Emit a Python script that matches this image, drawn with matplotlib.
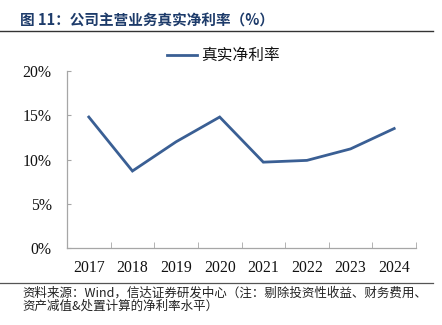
import matplotlib
matplotlib.use("Agg")
import matplotlib.pyplot as plt
import numpy as np
from matplotlib.ticker import FuncFormatter, FixedLocator

plt.rcParams['font.family'] = ['Noto Sans CJK SC', 'DejaVu Sans']

years = ['2017', '2018', '2019', '2020', '2021', '2022', '2023', '2024']
net_margin = [14.8, 8.7, 12.0, 14.8, 9.7, 9.9, 11.2, 13.5]
series_name = '真实净利率'
title = '图 11：公司主营业务真实净利率（%）'
source1 = '资料来源：Wind，信达证券研发中心（注：剔除投资性收益、财务费用、'
source2 = '资产减值&处置计算的净利率水平）'

W, H = 442, 325
fig = plt.figure(figsize=(W / 100, H / 100), dpi=100)
ax = fig.add_axes([67 / W, 1 - 248 / H, (416 - 67) / W, (248 - 71) / H])

line_color = '#3a5f94'
x = np.arange(len(years))
ln, = ax.plot(x, net_margin, color=line_color, lw=2.0, solid_joinstyle='miter')

ax.set_xlim(-0.5, len(years) - 0.5)
ax.set_ylim(0, 20)
ax.set_yticks([0, 5, 10, 15, 20])
ax.yaxis.set_major_formatter(FuncFormatter(lambda v, p: f'{v:.0f}%'))
ax.set_xticks(x)
ax.set_xticklabels(years)
ax.xaxis.set_minor_locator(FixedLocator(np.arange(-0.5, len(years), 1.0)))

serif = ['Liberation Serif', 'DejaVu Serif']
for lab in ax.get_xticklabels() + ax.get_yticklabels():
    lab.set_family(serif)
    lab.set_fontsize(11.3)
    lab.set_color('#111111')

spine_c = '#a6a6a6'
for s in ['top', 'right']:
    ax.spines[s].set_visible(False)
for s in ['left', 'bottom']:
    ax.spines[s].set_color(spine_c)
    ax.spines[s].set_linewidth(0.9)
ax.tick_params(axis='y', direction='in', length=3, color=spine_c, pad=11)
ax.tick_params(axis='x', which='major', length=0, pad=9)
ax.tick_params(axis='x', which='minor', direction='in', length=4, color=spine_c)

# legend
fig.add_artist(plt.Line2D([167 / W, 197 / W], [1 - 55 / H, 1 - 55 / H],
                          color=line_color, lw=2.0, transform=fig.transFigure))
fig.text(201 / W, 1 - 55 / H, series_name, fontsize=11.3, va='center', ha='left', color='#111111')

# title
fig.text(20 / W, 1 - 21 / H, title, fontsize=10.5, fontweight='bold', color='#1d3b6a',
         va='center', ha='left')
fig.add_artist(plt.Line2D([0, 433 / W], [1 - 31 / H, 1 - 31 / H], color='#333333', lw=1.0,
                          transform=fig.transFigure))

# source
fig.add_artist(plt.Line2D([0, 433 / W], [1 - 283 / H, 1 - 283 / H], color='#555555', lw=0.9,
                          transform=fig.transFigure))
fig.text(22 / W, 1 - 293 / H, source1, fontsize=9.0, va='center', ha='left', color='#222222',
         style='italic')
fig.text(22 / W, 1 - 306 / H, source2, fontsize=9.0, va='center', ha='left', color='#222222',
         style='italic')

fig.savefig('out.png', dpi=100)
